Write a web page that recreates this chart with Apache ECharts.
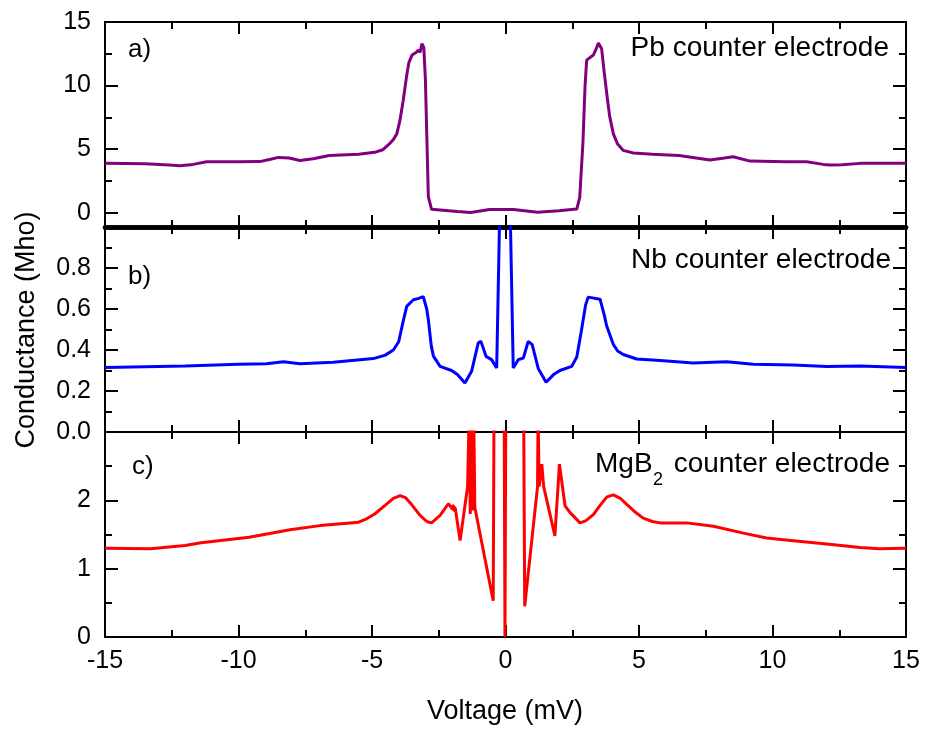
<!DOCTYPE html>
<html><head><meta charset="utf-8">
<script src="https://cdn.jsdelivr.net/npm/echarts@6/dist/echarts.min.js"></script>
<style>html,body{margin:0;padding:0;background:#fff}#c{width:926px;height:730px}</style>
</head><body><div id="c"></div>
<script>
// ---- data ----
const xTicks = [-15, -10, -5, 0, 5, 10, 15];
const pbTicks = [0, 5, 10, 15];
const nbTicks = [0, 0.2, 0.4, 0.6, 0.8];
const mgTicks = [0, 1, 2];

const pbV = [-15,-13.5,-12.6,-12.2,-11.7,-11.2,-10,-9.2,-8.8,-8.5,-8.1,-7.7,-7.2,-6.6,-5.5,-4.9,-4.6,-4.33,-4.2,-4.07,-3.95,-3.83,-3.7,-3.62,-3.5,-3.35,-3.26,-3.2,-3.13,-3.06,-3.0,-2.95,-2.89,-2.77,-1.8,-1.3,-0.6,0.3,1.2,2.0,2.67,2.78,2.9,2.98,3.04,3.29,3.4,3.48,3.6,3.7,3.79,3.9,4.04,4.2,4.41,4.79,5.5,6.5,7.66,8.2,8.53,9.16,10.5,11.28,11.9,12.15,12.6,13.28,15];
const pbG = [3.88,3.85,3.75,3.69,3.8,4.0,4.0,4.02,4.2,4.35,4.3,4.1,4.25,4.5,4.6,4.75,4.95,5.45,5.75,6.2,7.3,8.85,10.8,11.8,12.4,12.6,12.8,12.6,13.3,13.0,10.5,6.25,1.26,0.27,0.1,0.02,0.25,0.25,0.04,0.15,0.29,1.2,5.5,10.0,12.0,12.4,12.9,13.35,12.9,11.0,9.4,7.6,6.2,5.4,4.9,4.7,4.6,4.5,4.14,4.3,4.4,4.06,4.0,4.0,3.8,3.75,3.78,3.88,3.88];

const nbV = [-15,-12,-10,-8.95,-8.32,-7.7,-6.45,-5.45,-4.95,-4.5,-4.2,-4.0,-3.85,-3.7,-3.45,-3.25,-3.08,-2.95,-2.89,-2.78,-2.7,-2.45,-2.02,-1.8,-1.52,-1.27,-1.02,-0.92,-0.73,-0.52,-0.33,-0.22,0.18,0.29,0.48,0.67,0.85,1.0,1.23,1.52,1.8,2.04,2.48,2.67,2.85,3.0,3.1,3.54,3.7,3.79,4.04,4.2,4.41,4.91,5.79,7.03,8.28,9.28,10.78,12.03,13.28,15];
const nbG = [0.315,0.322,0.33,0.333,0.343,0.333,0.34,0.353,0.358,0.375,0.40,0.44,0.53,0.613,0.645,0.652,0.66,0.6,0.548,0.42,0.37,0.32,0.3,0.28,0.239,0.296,0.435,0.442,0.369,0.353,0.312,1.05,1.05,0.312,0.353,0.361,0.442,0.426,0.308,0.243,0.28,0.3,0.32,0.366,0.5,0.62,0.658,0.648,0.57,0.517,0.427,0.395,0.378,0.356,0.349,0.336,0.343,0.331,0.327,0.319,0.322,0.315];

const mgV = [-15,-13.3,-12,-11.4,-9.6,-8.07,-6.95,-5.82,-5.5,-5.2,-4.9,-4.5,-4.2,-3.95,-3.75,-3.5,-3.2,-2.95,-2.77,-2.45,-2.14,-2.0,-1.86,-2.0,-1.88,-1.7,-1.42,-1.36,-1.32,-1.28,-1.22,-1.19,-1.15,-0.46,-0.43,-0.05,-0.02,0.01,0.68,0.72,1.2,1.22,1.26,1.36,1.43,1.85,2.02,2.23,2.42,2.79,3.0,3.29,3.55,3.8,4.04,4.3,4.54,4.85,5.16,5.5,5.79,6.79,7.79,8.91,9.78,10.78,12.03,13.28,14.0,15];
const mgG = [1.30,1.29,1.34,1.38,1.46,1.57,1.63,1.67,1.68,1.73,1.8,1.93,2.03,2.07,2.04,1.93,1.78,1.69,1.67,1.78,1.95,1.88,1.84,1.93,1.88,1.41,2.2,3.3,1.8,3.3,1.85,3.3,1.9,0.53,3.3,3.3,0,3.3,3.3,0.45,2.2,3.3,2.2,2.53,2.2,1.48,2.53,1.92,1.82,1.67,1.7,1.79,1.93,2.05,2.08,2.03,1.94,1.83,1.74,1.69,1.67,1.67,1.62,1.52,1.45,1.41,1.36,1.31,1.29,1.30];

// ---- build ----
const pair = (xs, ys) => xs.map((x, i) => [x, ys[i]]);
const F = 'Liberation Sans, Arial, Helvetica, sans-serif';
const BL = { color: '#000', width: 2 };

const grids = [
  { left: 105, right: 20, top: 22, height: 205 },    // frame of panel a
  { left: 105, right: 20, top: 22, height: 190.7 },  // data area of panel a (0..15)
  { left: 105, right: 20, top: 227, height: 205 },   // panel b
  { left: 105, right: 20, top: 432, height: 205 }    // panel c
];

function xAx(i, pos, showLabel, lw) {
  return {
    type: 'value', gridIndex: i, position: pos, min: xTicks[0], max: xTicks[xTicks.length - 1], interval: 5,
    axisLine: { show: true, onZero: false, lineStyle: { color: '#000', width: lw } },
    axisTick: { show: true, inside: true, length: 12, lineStyle: BL },
    minorTick: { show: true, splitNumber: 2, length: 7, lineStyle: BL },
    splitLine: { show: false }, minorSplitLine: { show: false },
    axisLabel: { show: showLabel, color: '#000', fontSize: 25, fontFamily: F, margin: 12 }
  };
}
const xAxes = [
  xAx(0, 'bottom', false, 4.5), xAx(0, 'top', false, 2),
  { type: 'value', gridIndex: 1, show: false, min: xTicks[0], max: xTicks[xTicks.length - 1] },
  xAx(2, 'bottom', false, 2), xAx(2, 'top', false, 4.5),
  xAx(3, 'bottom', true, 2), xAx(3, 'top', false, 2)
];

const lab = { color: '#000', fontSize: 25, fontFamily: F, margin: 14 };
function yAx(i, pos, min, max, interval, showLabel, fmt) {
  return {
    type: 'value', gridIndex: i, position: pos, min: min, max: max, interval: interval,
    axisLine: { show: true, onZero: false, lineStyle: BL },
    axisTick: { show: true, inside: true, length: 13, lineStyle: BL },
    minorTick: { show: true, splitNumber: 2, length: 7, lineStyle: BL },
    splitLine: { show: false }, minorSplitLine: { show: false },
    axisLabel: showLabel ? Object.assign({ showMaxLabel: true, formatter: fmt }, lab) : { show: false }
  };
}
function frameY(i, pos) {
  return {
    type: 'value', gridIndex: i, position: pos, min: 0, max: 1,
    axisLine: { show: true, onZero: false, lineStyle: BL },
    axisTick: { show: false }, minorTick: { show: false }, axisLabel: { show: false },
    splitLine: { show: false }, minorSplitLine: { show: false }
  };
}
const fmtA = v => pbTicks.indexOf(v) >= 0 ? String(v) : '';
const fmtB = v => nbTicks.indexOf(+v.toFixed(1)) >= 0 ? v.toFixed(1) : '';
const fmtC = v => mgTicks.indexOf(v) >= 0 ? String(v) : '';
const yAxes = [
  frameY(0, 'left'), frameY(0, 'right'),
  yAx(1, 'left', 0, 15, 5, true, fmtA), yAx(1, 'right', 0, 15, 5, false),
  yAx(2, 'left', 0, 1, 0.2, true, fmtB), yAx(2, 'right', 0, 1, 0.2, false),
  yAx(3, 'left', 0, 3, 1, true, fmtC), yAx(3, 'right', 0, 3, 1, false)
];

function ser(xi, yi, data, color, clip) {
  return {
    type: 'line', xAxisIndex: xi, yAxisIndex: yi, data: data, showSymbol: false, symbol: 'none',
    clip: clip, smooth: false, lineStyle: { color: color, width: 3 }, itemStyle: { color: color },
    animation: false, silent: true
  };
}

function txt(x, y, text, size, align) {
  return {
    type: 'text', x: x, y: y, silent: true,
    style: { text: text, fill: '#000', font: size + 'px ' + F, fontSize: size, fontFamily: F,
      align: align, textAlign: align, verticalAlign: 'middle', textVerticalAlign: 'middle' }
  };
}

const chart = echarts.init(document.getElementById('c'), null, { renderer: 'canvas' });
chart.setOption({
  backgroundColor: '#fff',
  animation: false,
  grid: grids,
  xAxis: xAxes,
  yAxis: yAxes,
  series: [
    ser(2, 2, pair(pbV, pbG), '#800080', false),
    ser(3, 4, pair(nbV, nbG), '#0000ff', true),
    ser(5, 6, pair(mgV, mgG), '#ff0000', true)
  ],
  graphic: [
    txt(128, 50, 'a)', 26, 'left'),
    txt(128, 277, 'b)', 26, 'left'),
    txt(132, 467, 'c)', 26, 'left'),
    txt(889, 48, 'Pb counter electrode', 28, 'right'),
    txt(891, 260, 'Nb counter electrode', 28, 'right'),
    txt(595, 464, 'MgB', 28, 'left'),
    txt(653, 480, '2', 18, 'left'),
    txt(890, 464, 'counter electrode', 28, 'right'),
    txt(505, 712, 'Voltage (mV)', 27, 'center'),
    Object.assign(txt(27, 330, 'Conductance (Mho)', 27, 'center'), { rotation: Math.PI / 2 })
  ]
});
</script></body></html>
